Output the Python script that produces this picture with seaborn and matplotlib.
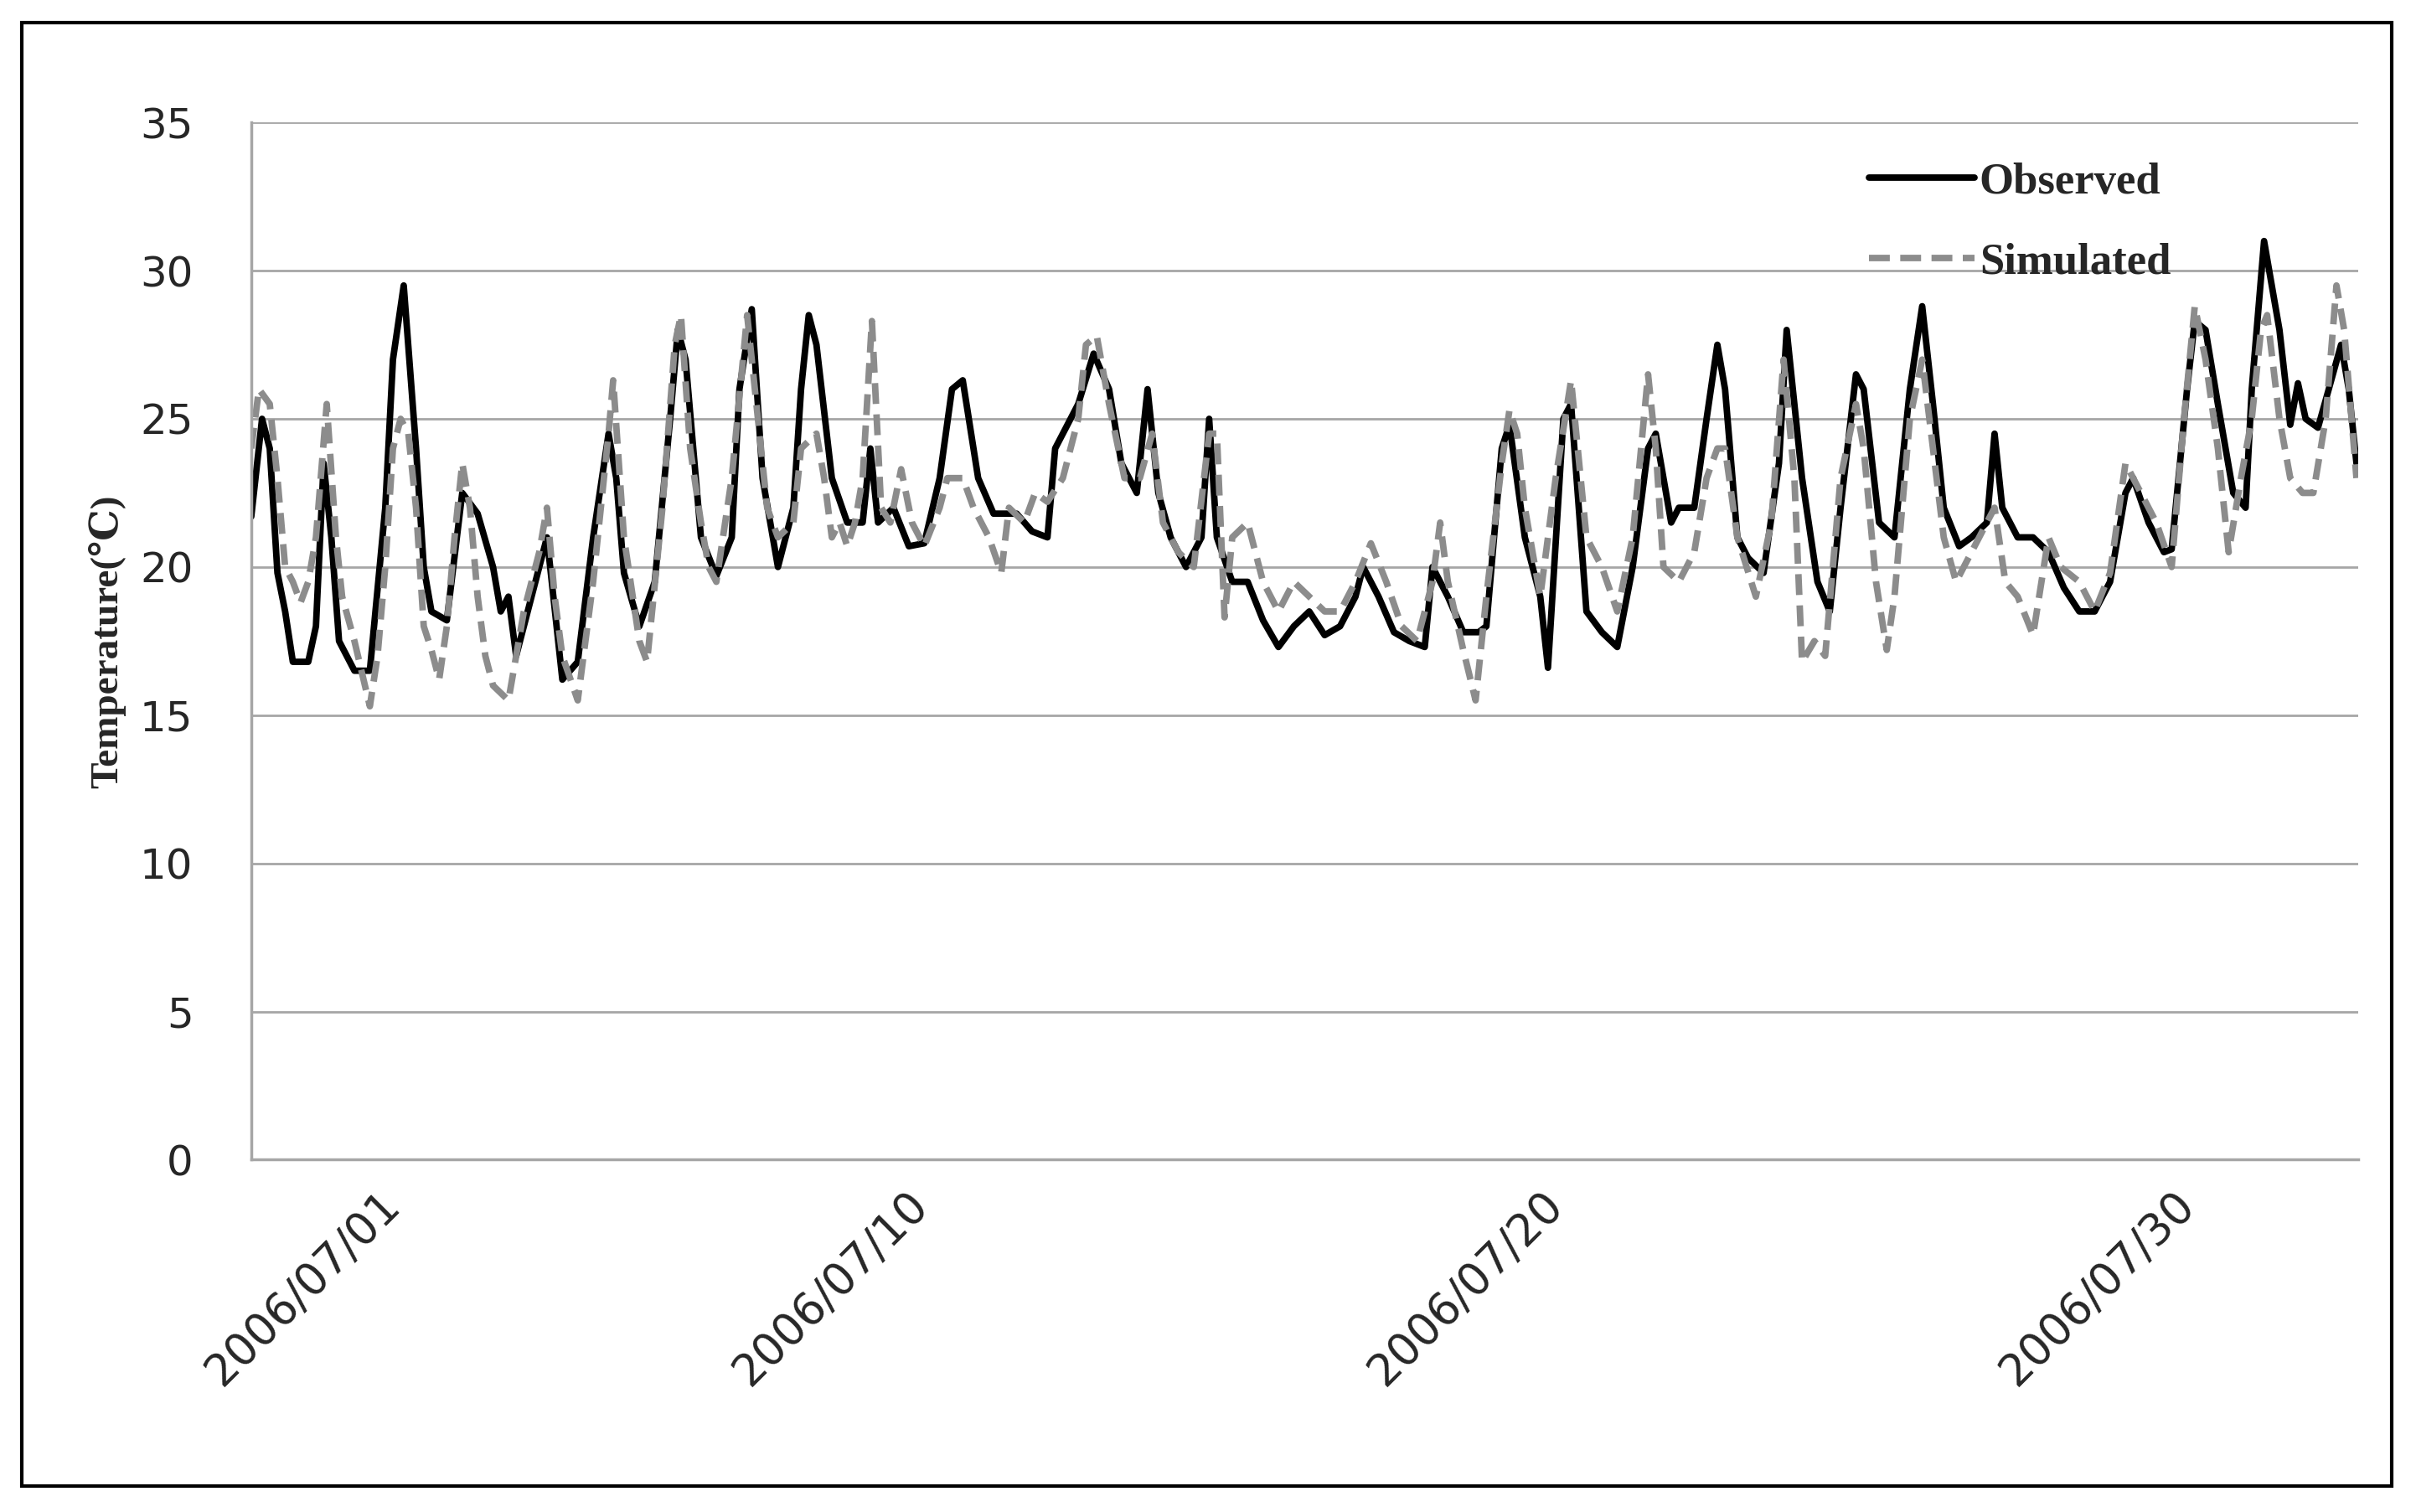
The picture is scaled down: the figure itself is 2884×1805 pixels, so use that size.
import numpy as np
import pandas as pd
import matplotlib
matplotlib.use("Agg")
import matplotlib.pyplot as plt
import seaborn as sns
from matplotlib.patches import Rectangle

# time index (sample position along the record) and temperatures
obs_t = [163,170,175,180,185,190,200,205,210,215,220,230,240,250,255,262,270,275,280,290,300,310,320,325,330,335,345,355,365,375,385,395,400,405,415,425,435,440,445,455,465,475,480,488,495,505,515,520,525,530,540,550,560,565,570,580,590,600,610,618,625,635,645,660,670,680,685,690,700,710,720,728,738,745,752,760,770,780,785,790,800,810,820,830,840,850,860,870,880,885,895,905,915,925,930,940,950,960,965,975,980,990,1000,1005,1015,1020,1030,1040,1050,1060,1070,1075,1080,1085,1090,1100,1108,1115,1120,1128,1135,1145,1155,1160,1170,1180,1188,1195,1205,1210,1220,1230,1240,1248,1255,1262,1272,1280,1290,1295,1300,1310,1320,1330,1340,1350,1360,1370,1380,1385,1395,1405,1410,1420,1425,1432,1440,1450,1458,1462,1470,1475,1480,1487,1492,1497,1505,1512,1520,1525,1530]
obs_v = [21.7,25,24,19.8,18.5,16.8,16.8,18,23.5,21,17.5,16.5,16.5,22,27,29.5,24,20,18.5,18.2,22.5,21.8,20,18.5,19,17,19,21,16.2,16.8,21,24.5,23,19.8,18,19.5,25,28,27,21,19.7,21,26,28.7,23,20,22,26,28.5,27.5,23,21.5,21.5,24,21.5,22,20.7,20.8,23,26,26.3,23,21.8,21.8,21.2,21,24,24.5,25.5,27.2,26,23.5,22.5,26,22.5,21,20,21,25,21,19.5,19.5,18.2,17.3,18,18.5,17.7,18,19,20,19,17.8,17.5,17.3,20,19,17.8,17.8,18,24,24.8,21,19,16.6,25,25.5,18.5,17.8,17.3,20,24,24.5,23,21.5,22,22,25,27.5,26,21,20.3,19.8,23.5,28,23,19.5,18.5,22,26.5,26,21.5,21,26,28.8,25.5,22,20.7,21,21.5,24.5,22,21,21,20.5,19.3,18.5,18.5,19.5,22.5,23,21.5,20.5,20.6,26,28.3,28,25.5,22.5,22,26,31,29.5,28,24.8,26.2,25,24.7,26,27.5,26,23.5]

sim_t = [163,168,175,180,185,190,195,200,205,212,218,222,230,240,245,250,255,260,265,270,275,280,285,290,295,300,305,310,315,320,330,335,340,350,355,360,365,375,380,385,395,398,405,415,420,430,438,442,448,455,460,465,475,485,492,498,505,515,520,530,535,540,545,550,555,560,566,572,578,585,592,600,610,615,625,632,642,650,655,665,672,680,690,700,705,712,720,730,740,748,755,765,775,785,790,795,800,810,820,830,840,850,860,870,880,890,900,910,920,930,935,940,950,958,965,975,980,985,990,1000,1010,1020,1030,1040,1050,1060,1070,1075,1080,1090,1100,1108,1115,1120,1128,1140,1150,1158,1165,1170,1178,1185,1195,1205,1210,1218,1225,1230,1240,1248,1255,1262,1270,1280,1290,1295,1302,1310,1320,1330,1338,1350,1360,1370,1380,1390,1400,1410,1418,1425,1432,1440,1447,1455,1462,1468,1472,1480,1487,1495,1502,1510,1517,1522,1530]
sim_v = [24,26,25.5,23,20,19.5,18.8,19.5,21,25.5,21,19,17.5,15.3,17,20,24,25,24.5,22,18,17.2,16.2,18,21,23.5,22,19,17,16,15.5,17,18.5,20.5,22,19,17,15.5,17.5,19.5,24.5,26.3,21,17.5,16.8,22,27.5,28.5,24,21.5,20,19.5,23,28.5,25,22,21,21.5,24,24.5,23,21,21.5,20.7,21.5,23,28.3,22,21.5,23.3,21.5,20.7,22,23,23,22,21,19.8,22,21.5,22.5,22.2,23,25,27.5,27.8,25.5,23,23,24.5,21.5,20.5,20,24.5,24.5,18.3,21,21.5,19.5,18.5,19.5,19,18.5,18.5,19.5,20.8,19.5,18,17.5,19.5,21.5,19.5,17.2,15.5,19,23.5,25.3,24.5,22,19,23,26.3,21,20,18.5,21,26.5,24,20,19.5,20.5,23,24,24,21,19,21.5,27,23,16.8,17.5,17,23,25.5,24,19.5,17.2,19,25,27,24,21,19.5,20.5,21.5,22,19.5,19,17.7,21,20,19.5,18.5,19.8,23.5,22.5,21.5,20,25,28.8,27,24,20.5,23,25,28,28.5,25,23,22.5,22.5,25,29.5,28,23]

tick_pos = [245, 588, 1000, 1410]
tick_labels = ["2006/07/01", "2006/07/10", "2006/07/20", "2006/07/30"]
y_ticks = [0, 5, 10, 15, 20, 25, 30, 35]

sns.set_theme(style="white")
fig = plt.figure(figsize=(14.42, 9.025), dpi=200)
fig.patches.append(Rectangle((0.009, 0.017), 0.981, 0.968, transform=fig.transFigure,
                             fill=False, edgecolor="black", lw=1.5))
ax = fig.add_axes([0.104, 0.233, 0.872, 0.686])

obs = pd.DataFrame({"t": obs_t, "v": obs_v})
sim = pd.DataFrame({"t": sim_t, "v": sim_v})
sns.lineplot(data=obs, x="t", y="v", ax=ax, color="black", lw=2.8, label="Observed")
sns.lineplot(data=sim, x="t", y="v", ax=ax, color="#8c8c8c", lw=2.8, label="Simulated",
             dashes=False, linestyle=(0, (3.2, 1.6)))

ax.set_xlim(163, 1531)
ax.set_ylim(0, 35)
ax.set_yticks(y_ticks)
ax.yaxis.grid(True, color="#a6a6a6", lw=1.0)
ax.set_axisbelow(True)
for s in ["top", "right"]:
    ax.spines[s].set_visible(False)
for s in ["left", "bottom"]:
    ax.spines[s].set_color("#a6a6a6")
ax.set_xticks(tick_pos)
ax.set_xticklabels(tick_labels, rotation=45, ha="right", rotation_mode="anchor",
                   fontsize=19, family="DejaVu Sans")
ax.tick_params(axis="x", length=0, pad=10)
ax.tick_params(axis="y", length=0, pad=25, labelsize=18)
ax.set_xlabel("")
ax.set_ylabel("Temperature(\u2103)", fontsize=17, fontweight="bold",
              family=["Liberation Serif", "DejaVu Serif"], labelpad=6)
ax.legend(loc="upper right", bbox_to_anchor=(0.93, 1.0), frameon=False,
          prop={"family": "Liberation Serif", "weight": "bold", "size": 19},
          handlelength=2.4, handletextpad=0.1, labelspacing=0.9)
fig.savefig("out.png", dpi=200)
